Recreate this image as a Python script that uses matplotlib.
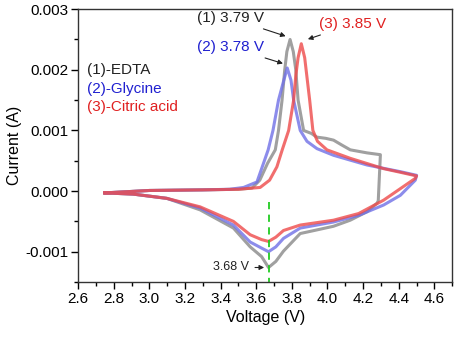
import numpy as np
import matplotlib
matplotlib.use("Agg")
import matplotlib.pyplot as plt
from matplotlib.ticker import MultipleLocator

plt.rcParams['font.family'] = ['Liberation Sans', 'DejaVu Sans']

# (1) EDTA: anodic sweep up to 4.3 V, then cathodic sweep back
edta_v = [2.75, 3.00, 3.30, 3.50, 3.576, 3.62, 3.664, 3.707, 3.725, 3.745, 3.76, 3.772,
          3.79, 3.808, 3.822, 3.835, 3.866, 3.91, 3.94, 3.99, 4.034, 4.08, 4.128, 4.222,
          4.297,
          4.285, 4.278, 4.222, 4.128, 4.034, 3.941, 3.847, 3.753, 3.71, 3.669, 3.63,
          3.566, 3.472, 3.285, 3.098, 2.91, 2.75]
edta_i = [-0.00003, 0.00001, 0.00002, 0.00003, 0.00005, 0.00018, 0.00046, 0.00068, 0.0010,
          0.0015, 0.0020, 0.0023, 0.0025, 0.0023, 0.0020, 0.0015, 0.0010, 0.00095,
          0.00089, 0.00087, 0.00084, 0.00076, 0.00068, 0.00063, 0.0006,
          -0.00016, -0.0002, -0.00034, -0.00048, -0.00058, -0.00064, -0.0007, -0.00099,
          -0.00116, -0.00126, -0.00108, -0.00092, -0.00061, -0.00031, -0.00012, -0.00005,
          -0.00003]

# (2) Glycine
gly_v = [2.75, 3.00, 3.30, 3.45, 3.529, 3.604, 3.641, 3.667, 3.694, 3.725, 3.755, 3.774,
         3.795, 3.81, 3.847, 3.885, 3.941, 4.034, 4.222, 4.409, 4.50,
         4.493, 4.409, 4.315, 4.175, 4.034, 3.847, 3.753, 3.71, 3.669, 3.63, 3.566,
         3.472, 3.285, 3.098, 2.91, 2.75]
gly_i = [-0.00003, 0.00001, 0.00002, 0.00003, 0.00006, 0.00015, 0.00046, 0.00068, 0.0010,
         0.0015, 0.00183, 0.00203, 0.00183, 0.0015, 0.0010, 0.00082, 0.0007, 0.00059,
         0.00043, 0.00032, 0.00026,
         0.00018, -0.00007, -0.00023, -0.0004, -0.00051, -0.00061, -0.00078, -0.00092,
         -0.001, -0.00094, -0.00084, -0.00056, -0.00028, -0.00012, -0.00005, -0.00003]

# (3) Citric acid
cit_v = [2.75, 3.00, 3.30, 3.50, 3.622, 3.675, 3.716, 3.746, 3.782, 3.81, 3.822, 3.835,
         3.853, 3.872, 3.888, 3.90, 3.918, 3.944, 3.997, 4.128, 4.315, 4.409, 4.50,
         4.493, 4.409, 4.315, 4.175, 4.034, 3.847, 3.753, 3.71, 3.669, 3.63, 3.566,
         3.472, 3.285, 3.098, 2.91, 2.75]
cit_i = [-0.00003, 0.00001, 0.00002, 0.00003, 0.00006, 0.00018, 0.0004, 0.00068, 0.0010,
         0.0015, 0.0019, 0.0022, 0.00243, 0.0022, 0.0018, 0.0015, 0.0010, 0.00082,
         0.00068, 0.00054, 0.00037, 0.00031, 0.00025,
         0.00021, 0.00004, -0.00015, -0.00037, -0.00048, -0.00056, -0.00065, -0.00076,
         -0.00083, -0.0008, -0.00072, -0.0005, -0.00026, -0.00012, -0.00005, -0.00003]

labels = ['(1)-EDTA', '(2)-Glycine', '(3)-Citric acid']
colors = ['#888888', '#7070e6', '#ee4a4a']
text_colors = ['#222222', '#2020d0', '#e02020']
peak_labels = ['(1) 3.79 V', '(2) 3.78 V', '(3) 3.85 V']
cathodic_peak_v = 3.67

fig = plt.figure(figsize=(4.54, 3.39), dpi=100)
ax = fig.add_axes([0.172, 0.168, 0.824, 0.805])

for v, i, c in zip([edta_v, gly_v, cit_v], [edta_i, gly_i, cit_i], colors):
    ax.plot(v, i, color=c, lw=2.2, alpha=0.8, solid_joinstyle='round')

ax.plot([cathodic_peak_v, cathodic_peak_v], [-0.00018, -0.0015], color='#22cc22',
        lw=1.3, ls=(0, (4, 3)))

ax.set_xlim(2.6, 4.7)
ax.set_ylim(-0.0015, 0.003)
ax.xaxis.set_major_locator(MultipleLocator(0.2))
ax.xaxis.set_minor_locator(MultipleLocator(0.1))
ax.yaxis.set_major_locator(MultipleLocator(0.001))
ax.yaxis.set_minor_locator(MultipleLocator(0.0005))
ax.xaxis.set_major_formatter(plt.FuncFormatter(lambda x, p: f"{x:.1f}"))
ax.yaxis.set_major_formatter(plt.FuncFormatter(lambda y, p: f"{y:.3f}"))
ax.tick_params(which='major', direction='out', length=5, width=1, labelsize=11,
               top=False, right=False, pad=2)
ax.tick_params(which='minor', direction='out', length=3, width=1, top=False, right=False)
for s in ax.spines.values():
    s.set_linewidth(1)
    s.set_color('#333333')

ax.set_xlabel('Voltage (V)', fontsize=11.5, labelpad=3)
ax.set_ylabel('Current (A)', fontsize=11.5, labelpad=2)

for k, (lab, tc) in enumerate(zip(labels, text_colors)):
    ax.text(2.65, 0.0020 - k * 0.00031, lab, color=tc, fontsize=11, va='center')

arrow = dict(arrowstyle='-|>', color='#222222', lw=0.8, mutation_scale=7)
ax.annotate(peak_labels[0], xy=(3.78, 0.00254), xytext=(3.27, 0.00285),
            color=text_colors[0], fontsize=11, va='center', arrowprops=arrow)
ax.annotate(peak_labels[1], xy=(3.765, 0.00209), xytext=(3.27, 0.00237),
            color=text_colors[1], fontsize=11, va='center', arrowprops=arrow)
ax.annotate(peak_labels[2], xy=(3.875, 0.00249), xytext=(3.95, 0.00275),
            color=text_colors[2], fontsize=11, va='center', arrowprops=arrow)
ax.annotate('3.68 V', xy=(cathodic_peak_v - 0.01, -0.00126), xytext=(3.36, -0.00126),
            color='#222222', fontsize=9, va='center', arrowprops=arrow)

fig.savefig('out.png', dpi=100)
